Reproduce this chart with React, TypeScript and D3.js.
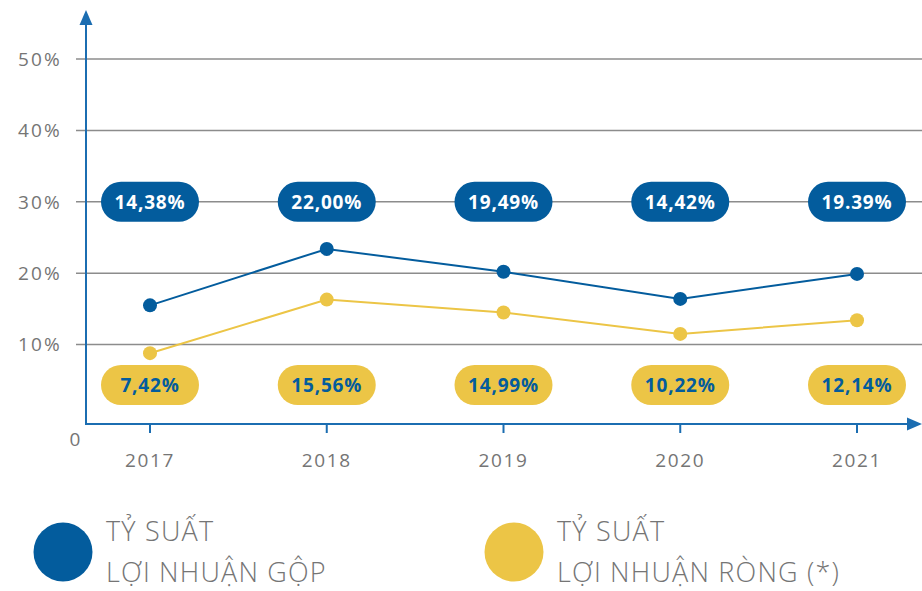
import * as d3 from "d3";
import React from "react";

const years = ["2017", "2018", "2019", "2020", "2021"];
// plotted positions (the dots)
const grossPoints = [15.5, 23.4, 20.2, 16.4, 19.9];
const netPoints = [8.8, 16.3, 14.5, 11.5, 13.4];
// values written in the bubbles
const grossLabels = ["14,38%", "22,00%", "19,49%", "14,42%", "19.39%"];
const netLabels = ["7,42%", "15,56%", "14,99%", "10,22%", "12,14%"];
const yTicks = [10, 20, 30, 40, 50];

const BLUE = "#035c9d";
const YELLOW = "#ecc546";
const AXIS = "#1b6db1";
const GRID = "#8c8c8c";
const TXT = "#757575";

const W = 922;
const H = 591;
const axisX = 86;
const axisY = 424;
const font = "'Open Sans', sans-serif";

export default function App() {
  const x = d3.scalePoint().domain(years).range([150, 857]);
  const y = d3.scaleLinear().domain([0, 50]).range([416, 59]);

  const lineGen = d3
    .line<number>()
    .x((_, i) => x(years[i])!)
    .y((d) => y(d));

  const legendText = { fontFamily: font, fontWeight: 300, fontSize: 27, letterSpacing: 1.2, fill: TXT };

  return (
    <div style={{ position: "absolute", left: 0, top: 0 }}>
      <svg width={W} height={H} style={{ display: "block", background: "#fff" }}>
        {/* gridlines */}
        {yTicks.map((t) => (
          <g key={t}>
            <line x1={76} x2={W} y1={y(t)} y2={y(t)} stroke={GRID} strokeWidth={1.5} />
            <text
              x={62}
              y={y(t)}
              dy="0.36em"
              textAnchor="end"
              fontFamily={font}
              fontSize={19}
              letterSpacing={2.2}
              fill={TXT}
            >
              {t}%
            </text>
          </g>
        ))}
        <text x={75} y={446} textAnchor="middle" fontFamily={font} fontSize={19} fill={TXT}>
          0
        </text>

        {/* axes */}
        <line x1={axisX} x2={axisX} y1={22} y2={axisY + 1} stroke={AXIS} strokeWidth={2} />
        <path d={`M${axisX - 6.5},${25} L${axisX},${10} L${axisX + 6.5},${25} Z`} fill={AXIS} />
        <line x1={axisX - 1} x2={910} y1={axisY} y2={axisY} stroke={AXIS} strokeWidth={2} />
        <path d={`M${907},${axisY - 6.5} L${922},${axisY} L${907},${axisY + 6.5} Z`} fill={AXIS} />
        {years.map((yr) => (
          <g key={yr}>
            <line x1={x(yr)} x2={x(yr)} y1={axisY} y2={axisY + 9} stroke={AXIS} strokeWidth={2} />
            <text
              x={x(yr)}
              y={467}
              textAnchor="middle"
              fontFamily={font}
              fontSize={19}
              letterSpacing={1.6}
              fill={TXT}
            >
              {yr}
            </text>
          </g>
        ))}

        {/* lines */}
        <path d={lineGen(netPoints)!} fill="none" stroke={YELLOW} strokeWidth={2} />
        <path d={lineGen(grossPoints)!} fill="none" stroke={BLUE} strokeWidth={2} />
        {netPoints.map((v, i) => (
          <circle key={"n" + i} cx={x(years[i])} cy={y(v)} r={7} fill={YELLOW} />
        ))}
        {grossPoints.map((v, i) => (
          <circle key={"g" + i} cx={x(years[i])} cy={y(v)} r={7} fill={BLUE} />
        ))}

        {/* value bubbles */}
        {grossLabels.map((lab, i) => (
          <g key={"gl" + i} transform={`translate(${x(years[i])},${y(30)})`}>
            <rect x={-49} y={-20} width={98} height={40} rx={20} fill={BLUE} />
            <text
              textAnchor="middle"
              dy="0.36em"
              fontFamily={font}
              fontWeight={700}
              fontSize={19}
              letterSpacing={0.8}
              fill="#fff"
            >
              {lab}
            </text>
          </g>
        ))}
        {netLabels.map((lab, i) => (
          <g key={"nl" + i} transform={`translate(${x(years[i])},${385})`}>
            <rect x={-49} y={-20} width={98} height={40} rx={20} fill={YELLOW} />
            <text
              textAnchor="middle"
              dy="0.36em"
              fontFamily={font}
              fontWeight={700}
              fontSize={19}
              letterSpacing={0.8}
              fill={BLUE}
            >
              {lab}
            </text>
          </g>
        ))}

        {/* legend */}
        <circle cx={63} cy={552} r={29.5} fill={BLUE} />
        <text x={106} y={541} {...legendText}>
          TỶ SUẤT
        </text>
        <text x={106} y={582} {...legendText}>
          LỢI NHUẬN GỘP
        </text>
        <circle cx={514} cy={552} r={29.5} fill={YELLOW} />
        <text x={557} y={541} {...legendText}>
          TỶ SUẤT
        </text>
        <text x={557} y={582} {...legendText}>
          LỢI NHUẬN RÒNG (*)
        </text>
      </svg>
    </div>
  );
}
